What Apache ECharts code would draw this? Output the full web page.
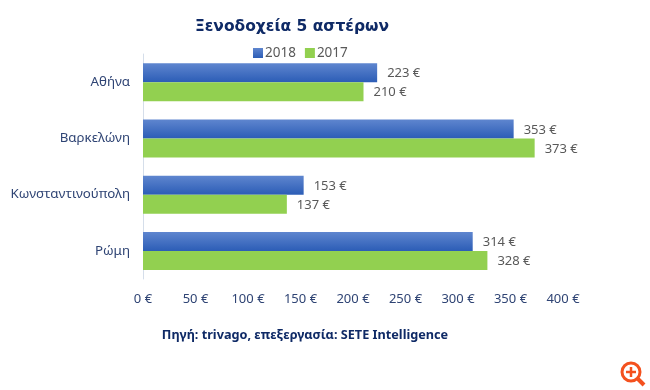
<!DOCTYPE html>
<html>
<head>
<meta charset="utf-8">
<style>
  html, body { margin: 0; padding: 0; background: #fff; }
  #chart { width: 650px; height: 390px; }
</style>
<script src="https://cdn.jsdelivr.net/npm/echarts@6/dist/echarts.min.js"></script>
</head>
<body>
<div id="chart"></div>
<script>
const categories = ['Αθήνα', 'Βαρκελώνη', 'Κωνσταντινούπολη', 'Ρώμη']
const values2018 = [223, 353, 153, 314]
const values2017 = [210, 373, 137, 328]
const seriesNames = ['2018', '2017']

const textBlue = '#2f4474'
const labelGrey = '#595959'
const darkBlue = '#0f2a66'
const font = 'Noto Sans'

const euro = (v) => `${v} €`

const chart = echarts.init(document.getElementById('chart'))
chart.setOption({
  animation: false,
  backgroundColor: '#fff',
  title: [
    {
      text: 'Ξενοδοχεία 5 αστέρων',
      left: 287, top: 14, textAlign: 'center',
      textStyle: { fontFamily: 'DejaVu Sans', fontSize: 15.5, fontWeight: 'bold', color: darkBlue }
    },
    {
      text: 'Πηγή: trivago, επεξεργασία: SETE Intelligence',
      left: 300, top: 324, textAlign: 'center',
      textStyle: { fontFamily: font, fontSize: 12.7, fontWeight: 'bold', color: darkBlue }
    }
  ],
  legend: {
    top: 41, left: 248,
    itemWidth: 10, itemHeight: 10, itemGap: 9,
    icon: 'rect',
    textStyle: { fontFamily: font, fontSize: 13.5, color: labelGrey, padding: [0, 0, 0, -3] },
    data: seriesNames
  },
  grid: { left: 143, right: 87, top: 54, bottom: 111 },
  xAxis: {
    type: 'value', min: 0, max: 400, interval: 50,
    axisLine: { show: false },
    axisTick: { show: false },
    splitLine: { show: false },
    axisLabel: {
      formatter: euro, margin: 14,
      fontFamily: font, fontSize: 13, color: textBlue
    }
  },
  yAxis: {
    type: 'category', inverse: true, data: categories,
    axisLine: { show: true, lineStyle: { color: '#d5deea', width: 1 } },
    axisTick: { show: false },
    axisLabel: { margin: 13, fontFamily: font, fontSize: 13.3, color: textBlue, padding: [2, 0, 0, 0] }
  },
  series: [
    {
      name: seriesNames[0], type: 'bar', data: values2018,
      barWidth: 19, barGap: 0,
      itemStyle: {
        color: new echarts.graphic.LinearGradient(0, 0, 0, 1, [
          { offset: 0, color: '#5f86cf' },
          { offset: 1, color: '#2c5db6' }
        ])
      },
      label: {
        show: true, position: 'right', distance: 10, offset: [0, 1], formatter: (p) => euro(p.value),
        fontFamily: font, fontSize: 13, color: labelGrey
      }
    },
    {
      name: seriesNames[1], type: 'bar', data: values2017,
      barWidth: 19,
      itemStyle: { color: '#92d050' },
      label: {
        show: true, position: 'right', distance: 10, offset: [0, 1], formatter: (p) => euro(p.value),
        fontFamily: font, fontSize: 13, color: labelGrey
      }
    }
  ],
  // magnifier badge in the bottom corner of the original image
  graphic: [
    { type: 'circle', shape: { cx: 631, cy: 372, r: 9 }, style: { fill: '#fff', stroke: '#f4511e', lineWidth: 3 } },
    { type: 'line', shape: { x1: 638, y1: 379, x2: 644, y2: 385 }, style: { stroke: '#f4511e', lineWidth: 4 } },
    { type: 'line', shape: { x1: 626, y1: 372, x2: 636, y2: 372 }, style: { stroke: '#f4511e', lineWidth: 2.5 } },
    { type: 'line', shape: { x1: 631, y1: 367, x2: 631, y2: 377 }, style: { stroke: '#f4511e', lineWidth: 2.5 } }
  ]
})
</script>
</body>
</html>
